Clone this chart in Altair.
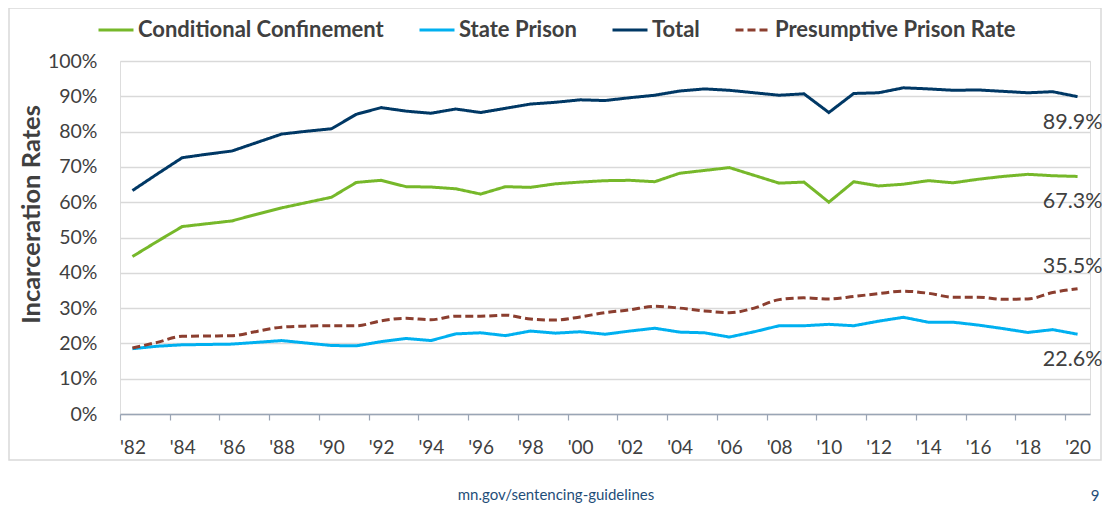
import altair as alt
import pandas as pd

years = list(range(1982, 2021))
series_names = ["Conditional Confinement", "State Prison", "Total", "Presumptive Prison Rate"]
series_colors = ["#76b82a", "#00b0f0", "#003865", "#8b3e2f"]

conditional = [44.6, 48.9, 53.1, 53.9, 54.7, 56.6, 58.4, 59.9, 61.4, 65.6, 66.2, 64.4, 64.3, 63.8,
               62.3, 64.4, 64.2, 65.2, 65.7, 66.1, 66.2, 65.8, 68.2, 69.0, 69.8, 67.6, 65.4, 65.7,
               60.0, 65.8, 64.6, 65.1, 66.1, 65.5, 66.5, 67.3, 67.9, 67.5, 67.3]
state = [18.5, 19.2, 19.6, 19.7, 19.8, 20.3, 20.8, 20.1, 19.4, 19.3, 20.5, 21.4, 20.8, 22.7,
         23.0, 22.2, 23.5, 22.9, 23.3, 22.6, 23.5, 24.3, 23.2, 23.0, 21.8, 23.3, 25.0, 25.0,
         25.4, 25.0, 26.3, 27.4, 26.0, 26.0, 25.2, 24.2, 23.1, 23.9, 22.6]
total = [63.3, 68.0, 72.6, 73.6, 74.5, 76.9, 79.3, 80.1, 80.8, 84.9, 86.8, 85.8, 85.2, 86.4,
         85.4, 86.6, 87.8, 88.3, 89.0, 88.8, 89.6, 90.3, 91.5, 92.1, 91.7, 91.0, 90.3, 90.7,
         85.4, 90.8, 91.0, 92.4, 92.1, 91.7, 91.8, 91.4, 91.0, 91.3, 89.9]
presumptive = [18.7, 20.3, 22.0, 22.1, 22.2, 23.4, 24.6, 24.9, 25.0, 25.0, 26.4, 27.1, 26.7, 27.7,
               27.7, 28.0, 26.9, 26.6, 27.5, 28.7, 29.5, 30.5, 30.0, 29.2, 28.7, 30.0, 32.4, 32.9,
               32.6, 33.3, 34.1, 34.8, 34.2, 33.1, 33.1, 32.5, 32.6, 34.4, 35.5]

tick_values = [y - 0.5 for y in years[::2]]
y_ticks = [i / 10 for i in range(11)]

rows = []
for name, vals in zip(series_names, [conditional, state, total, presumptive]):
    for yr, v in zip(years, vals):
        rows.append({"year": yr, "series": name, "rate": round(v / 100, 4)})
df = pd.DataFrame(rows)

FONT = "Lato"
TXT = "#404040"

legend = alt.Legend(
    title=None, orient="none", direction="horizontal", legendX=-23, legendY=-50,
    symbolType="stroke", symbolSize=1225, symbolStrokeWidth=3, columnPadding=29,
    labelOffset=3, labelFont=FONT, labelFontSize=22, labelFontWeight="bold",
    labelColor=TXT, labelLimit=400,
)

x = alt.X("year:Q", scale=alt.Scale(domain=[1981.5, 2020.5], nice=False, zero=False),
          axis=alt.Axis(values=tick_values, title=None, grid=False,
                        labelExpr="\"'\" + substring(toString(datum.value + 0.5), 2)",
                        labelOffset=12.45, labelFlush=False, labelOverlap=False,
                        labelFont=FONT, labelFontSize=19, labelColor=TXT,
                        labelBaseline="alphabetic", labelPadding=33,
                        tickSize=6, tickColor="#9aa5b5", tickWidth=1.2,
                        domainColor="#9aa5b5", domainWidth=1.5))
y = alt.Y("rate:Q", scale=alt.Scale(domain=[0, 1], nice=False),
          axis=alt.Axis(values=y_ticks, format=".0%", title="Incarceration Rates",
                        grid=True, gridColor="#d9d9d9", gridWidth=1.5,
                        domain=False, ticks=False, labelPadding=23, labelOverlap=False,
                        labelFont=FONT, labelFontSize=19.5, labelColor=TXT,
                        titleFont=FONT, titleFontSize=25.5, titleFontWeight="bold",
                        titleColor=TXT, titleX=-89, titleY=153, titleAngle=-90,
                        titleAlign="center", titleBaseline="middle"))

color = alt.Color("series:N", scale=alt.Scale(domain=series_names, range=series_colors), legend=legend)
dash = alt.StrokeDash("series:N", scale=alt.Scale(domain=series_names,
                                                 range=[[1, 0], [1, 0], [1, 0], [8, 4]]), legend=legend)

base = alt.Chart(df)

solid = base.mark_line(strokeWidth=3).encode(x=x, y=y, color=color, strokeDash=dash).transform_filter(
    alt.FieldOneOfPredicate(field="series", oneOf=series_names[:3]))
dashed = base.mark_line(strokeWidth=3, interpolate="monotone").encode(
    x=x, y=y, color=color, strokeDash=dash).transform_filter(
    alt.FieldEqualPredicate(field="series", equal=series_names[3]))

end_below = base.mark_text(font=FONT, fontSize=21.5, color=TXT, align="center", dx=-5, dy=26).encode(
    x=x, y=y, text=alt.Text("rate:Q", format=".1%")).transform_filter(
    (alt.datum.year == years[-1]) & (alt.datum.series != series_names[3]))
end_above = base.mark_text(font=FONT, fontSize=21.5, color=TXT, align="center", dx=-5, dy=-22).encode(
    x=x, y=y, text=alt.Text("rate:Q", format=".1%")).transform_filter(
    (alt.datum.year == years[-1]) & (alt.datum.series == series_names[3]))

frame = alt.Chart(pd.DataFrame({"a": [0]})).mark_rect(fill=None, stroke="#d9d9d9", strokeWidth=1.5).encode(
    x=alt.value(-111), x2=alt.value(981), y=alt.value(-53), y2=alt.value(399))

footer = alt.Chart(pd.DataFrame({"t": ["mn.gov/sentencing-guidelines"]})).mark_text(
    font=FONT, fontSize=15, color="#1f4e79", align="center", baseline="alphabetic").encode(
    x=alt.value(436), y=alt.value(439), text="t:N")
page = alt.Chart(pd.DataFrame({"t": ["9"]})).mark_text(
    font=FONT, fontSize=15, color="#1f4e79", align="center", baseline="alphabetic").encode(
    x=alt.value(975), y=alt.value(440), text="t:N")

chart = alt.layer(frame, solid, dashed, end_below, end_above, footer, page).properties(
    width=970, height=353, autosize="none",
    padding={"left": 112, "top": 53, "right": 12, "bottom": 90},
).configure_view(stroke=None).configure(background="white")

chart.save("out.html", embed_options={"renderer": "svg", "actions": False})
